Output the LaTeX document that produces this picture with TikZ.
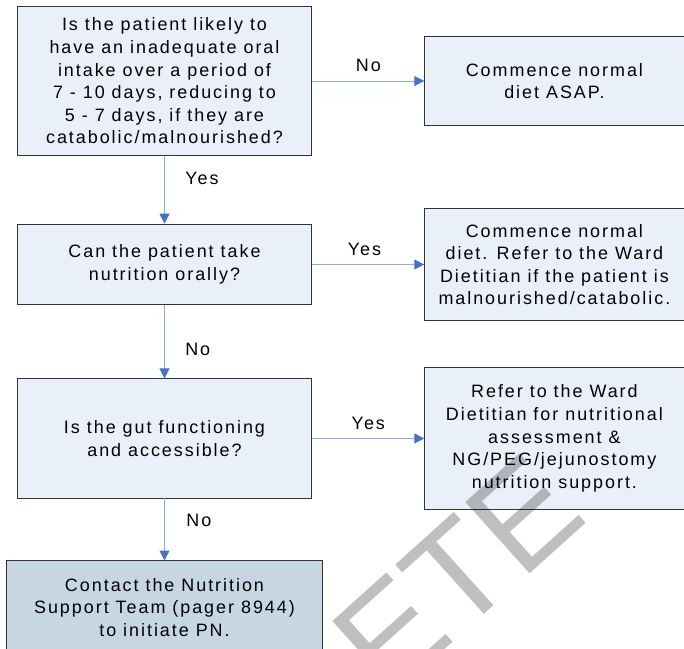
\documentclass[tikz,border=0pt]{standalone}
\usepackage{fontspec}
\setmainfont{Liberation Sans}[LetterSpace=11]
\newfontfamily\markfont{Liberation Sans}
\usepackage{tikz}
\usetikzlibrary{arrows.meta}
\usetikzlibrary{positioning}
\usepackage{xcolor}
\definecolor{boxfill}{HTML}{EAF0F9}
\definecolor{pnfill}{HTML}{C6D6E2}
\definecolor{boxline}{HTML}{333333}
\definecolor{linkline}{HTML}{8AAEE0}
\definecolor{tipblue}{HTML}{4472C4}
\tikzset{
box/.style={draw=boxline,
  line width=0.75pt,
  fill=boxfill,
    align=center,
    inner sep=0pt,
    font=\fontsize{13.5}{17}\selectfont},
qbox/.style={box,
  minimum width=7.8cm},
abox/.style={box,
  minimum width=6.86cm},
link/.style={draw=linkline,
  line width=0.75pt,
  -{Triangle[length=7.5pt,width=7.5pt,color=tipblue]}},
lbl/.style={font=\fontsize{13.5}{17}\selectfont},
}

\begin{document}
\begin{tikzpicture}
    \useasboundingbox (-4.352,2.143) rectangle (13.745,-15.028);

    \node [qbox, minimum height=3.92cm] (q1) at (0,0) {Is the patient likely to\\have an inadequate oral\\intake over a period of\\7 - 10 days, reducing to\\5 - 7 days, if they are\\catabolic/malnourished?};
    \node [abox, minimum height=2.33cm, right=2.96cm of q1] (a1) {Commence normal\\diet ASAP.};

    \node [qbox, minimum height=2.14cm, below=1.8cm of q1] (q2) {Can the patient take\\nutrition orally?};
    \node [abox, minimum height=2.94cm, right=2.96cm of q2] (a2) {Commence normal\\diet. Refer to the Ward\\Dietitian if the patient is\\malnourished/catabolic.};

    \node [qbox, minimum height=3.15cm, below=1.93cm of q2] (q3) {Is the gut functioning\\and accessible?};
    \node [abox, minimum height=3.78cm, right=2.96cm of q3] (a3) {Refer to the Ward\\Dietitian for nutritional\\assessment \&\\NG/PEG/jejunostomy\\nutrition support.};

    \node [box, fill=pnfill, minimum width=8.36cm, minimum height=2.45cm, below=1.64cm of q3] (pn) {Contact the Nutrition\\Support Team (pager 8944)\\to initiate PN.};

  \draw [link] (q1) -- node [lbl, above=3pt] {No} (a1);
  \draw [link] (q1) -- node [lbl, right=0.42cm, yshift=0.3cm] {Yes} (q2);
  \draw [link] (q2) -- node [lbl, above=3pt, xshift=-0.1cm] {Yes} (a2);
  \draw [link] (q2) -- node [lbl, right=0.42cm, yshift=-0.2cm] {No} (q3);
  \draw [link] (q3) -- node [lbl, above=3pt] {Yes} (a3);
  \draw [link] (q3) -- node [lbl, right=0.45cm, yshift=0.25cm] {No} (pn);

  \node [text=black!25, rotate=42, blend mode=multiply, font=\markfont\fontsize{105}{105}\selectfont] (mark) at (7.75,-13.05) {ETE};
  \end{tikzpicture}
\end{document}
